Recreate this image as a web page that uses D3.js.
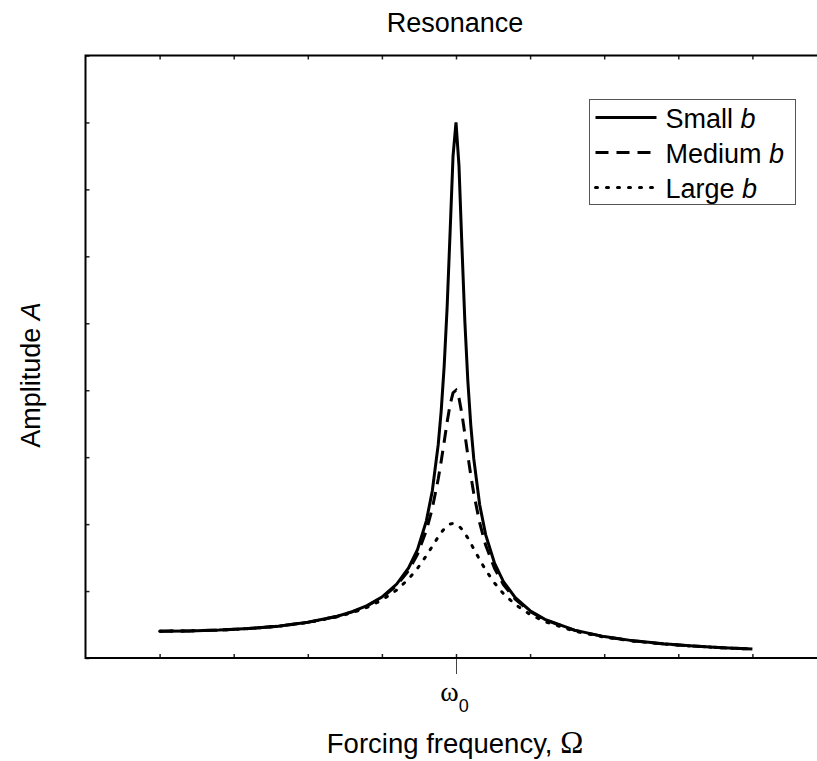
<!DOCTYPE html>
<html>
<head>
<meta charset="utf-8">
<script src="https://cdn.jsdelivr.net/npm/d3@7"></script>
<style>
  body { margin: 0; background: #fff; }
  svg { font-family: 'Liberation Sans', Arial, sans-serif; }
</style>
</head>
<body>
<div id="chart"></div>
<script>
// forcing frequency (omega0 = 1) and amplitudes
const omega = [0, 0.1, 0.2, 0.3, 0.4, 0.5, 0.6, 0.65, 0.7, 0.75, 0.8, 0.84, 0.87, 0.9, 0.92, 0.94, 0.95, 0.96, 0.97, 0.98, 0.99,
    1, 1.01, 1.02, 1.03, 1.04, 1.05, 1.06, 1.08, 1.1, 1.13, 1.16, 1.2, 1.25, 1.3, 1.4, 1.5, 1.6, 1.7, 1.8, 1.9, 2]
const smallB = [1, 1.010, 1.042, 1.099, 1.190, 1.333, 1.561, 1.729, 1.956, 2.277, 2.761, 3.363, 4.049, 5.121, 6.237, 7.966, 9.220, 10.878, 13.080, 15.873, 18.744,
    20, 18.398, 15.370, 12.538, 10.335, 8.683, 7.436, 5.716, 4.607, 3.539, 2.854, 2.252, 1.767, 1.443, 1.039, 0.799, 0.640, 0.529, 0.446, 0.383, 0.333]
const mediumB = [1, 1.010, 1.041, 1.098, 1.189, 1.330, 1.556, 1.721, 1.943, 2.253, 2.712, 3.266, 3.873, 4.757, 5.585, 6.684, 7.346, 8.068, 8.804, 9.461, 9.903,
    10, 9.711, 9.115, 8.357, 7.565, 6.815, 6.141, 5.041, 4.218, 3.344, 2.743, 2.193, 1.736, 1.424, 1.031, 0.794, 0.638, 0.527, 0.445, 0.382, 0.333]
const largeB = [1, 1.010, 1.041, 1.097, 1.185, 1.322, 1.536, 1.689, 1.891, 2.162, 2.538, 2.950, 3.345, 3.821, 4.172, 4.522, 4.683, 4.822, 4.931, 5.001, 5.025,
    5, 4.926, 4.809, 4.655, 4.476, 4.279, 4.075, 3.668, 3.288, 2.798, 2.402, 1.995, 1.625, 1.356, 1.000, 0.778, 0.628, 0.521, 0.441, 0.379, 0.330]
const seriesNames = ['Small', 'Medium', 'Large']
const xTicks = [0, 0.25, 0.5, 0.75, 1, 1.25, 1.5, 1.75, 2]
const yTicks = [0, 2.5, 5, 7.5, 10, 12.5, 15, 17.5, 20, 22.5]

const width = 817
const height = 761
const plotLeft = 85.5, plotRight = 826.5, plotTop = 55.5, plotBottom = 658

const x = d3.scaleLinear().domain([-0.25, 2.25]).range([plotLeft, plotRight])
const y = d3.scaleLinear().domain([0, 22.5]).range([plotBottom, plotTop])

const svg = d3.select('#chart')
    .append('svg')
    .attr('width', width)
    .attr('height', height)

// inward minor ticks
svg.append('g')
    .attr('transform', `translate(0, ${plotBottom})`)
    .call(d3.axisBottom(x).tickValues(xTicks).tickSize(-4).tickFormat(''))
    .call(g => g.select('.domain').remove())
svg.append('g')
    .attr('transform', `translate(0, ${plotTop})`)
    .call(d3.axisTop(x).tickValues(xTicks).tickSize(-4).tickFormat(''))
    .call(g => g.select('.domain').remove())
svg.append('g')
    .attr('transform', `translate(${plotLeft}, 0)`)
    .call(d3.axisLeft(y).tickValues(yTicks).tickSize(-4).tickFormat(''))
    .call(g => g.select('.domain').remove())
svg.selectAll('.tick line').attr('stroke', '#222').attr('stroke-width', 1.5)

// omega0 tick
const w0 = svg.append('g')
    .attr('transform', `translate(0, ${plotBottom})`)
    .call(d3.axisBottom(x).tickValues([1]).tickSize(16).tickFormat(''))
w0.select('.domain').remove()
w0.select('.tick line').attr('stroke', '#444').attr('stroke-width', 1)
const w0label = w0.select('.tick').append('text')
    .attr('x', -2)
    .attr('y', 43)
    .attr('fill', '#000')
    .attr('text-anchor', 'middle')
    .style('font-family', "'Liberation Serif', 'Times New Roman', serif")
    .style('font-size', '28px')
w0label.append('tspan').text('ω')
w0label.append('tspan').attr('dy', 11).style('font-family', "'Liberation Sans', Arial, sans-serif").style('font-size', '18px').text('0')

// frame
svg.append('rect')
    .attr('x', plotLeft).attr('y', plotTop)
    .attr('width', plotRight - plotLeft).attr('height', plotBottom - plotTop)
    .attr('fill', 'none').attr('stroke', '#000').attr('stroke-width', 2)

const dashes = ['none', '13,8', '2,9']
const line = d3.line().x((d) => x(d[0])).y((d) => y(d[1]))
const series = [smallB, mediumB, largeB]

series.forEach((vals, i) => {
    svg.append('path')
        .datum(omega.map((o, j) => [o, vals[j]]))
        .attr('d', line)
        .attr('fill', 'none')
        .attr('stroke', '#000')
        .attr('stroke-width', 3)
        .attr('stroke-linecap', i === 2 ? 'round' : 'butt')
        .attr('stroke-dasharray', dashes[i])
})

// legend
const legend = svg.append('g').attr('transform', 'translate(589.5, 99.5)')
legend.append('rect')
    .attr('width', 206).attr('height', 105)
    .attr('fill', '#fff').attr('stroke', '#555').attr('stroke-width', 1)
seriesNames.forEach((name, i) => {
    const row = legend.append('g').attr('transform', `translate(0, ${18 + i * 35})`)
    row.append('line')
        .attr('x1', 6).attr('x2', 67).attr('y1', 0).attr('y2', 0)
        .attr('stroke', '#000').attr('stroke-width', 3)
        .attr('stroke-linecap', i === 2 ? 'round' : 'butt')
        .attr('stroke-dasharray', dashes[i])
    const t = row.append('text').attr('x', 76).attr('y', 10).style('font-size', '27px')
    t.append('tspan').text(name + ' ')
    t.append('tspan').style('font-style', 'italic').text('b')
})

// titles
svg.append('text')
    .attr('x', 455).attr('y', 32)
    .attr('text-anchor', 'middle')
    .style('font-size', '27px')
    .text('Resonance')

const xl = svg.append('text')
    .attr('x', 455).attr('y', 753)
    .attr('text-anchor', 'middle')
    .style('font-size', '27.5px')
xl.append('tspan').text('Forcing frequency, ')
xl.append('tspan').style('font-family', "'Liberation Serif', 'Times New Roman', serif").style('font-size', '31px').text('Ω')

const yl = svg.append('text')
    .attr('transform', 'translate(40, 375) rotate(-90)')
    .attr('text-anchor', 'middle')
    .style('font-size', '27px')
yl.append('tspan').text('Amplitude ')
yl.append('tspan').style('font-style', 'italic').text('A')
</script>
</body>
</html>
